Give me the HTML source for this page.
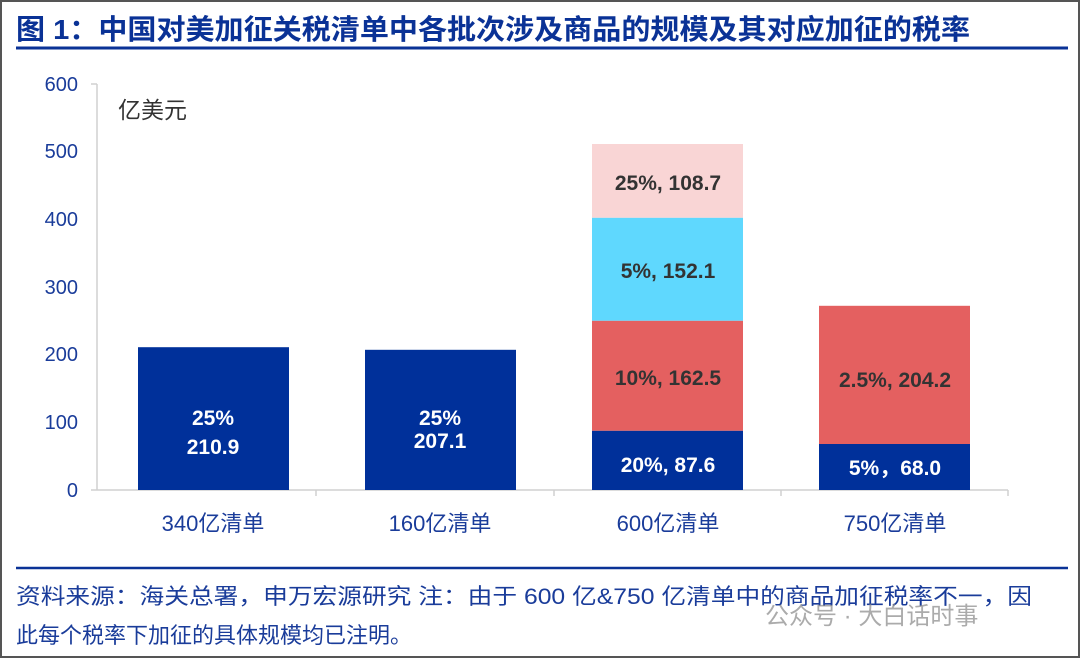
<!DOCTYPE html>
<html><head><meta charset="utf-8"><style>
html,body{margin:0;padding:0;background:#fff;}
body{width:1080px;height:658px;position:relative;overflow:hidden;font-family:"Liberation Sans","Noto Sans CJK SC",sans-serif;}
.frame{position:absolute;left:0;top:0;width:1076px;height:654px;border:2px solid #555;}
</style></head><body>
<div class="frame"></div>
<svg width="1080" height="658" style="position:absolute;left:0;top:0" font-family="Liberation Sans, Noto Sans CJK SC, sans-serif">
<text x="16" y="39" font-size="28" font-weight="bold" fill="#0a3296" textLength="954" lengthAdjust="spacingAndGlyphs">图 1：中国对美加征关税清单中各批次涉及商品的规模及其对应加征的税率</text>
<line x1="16" y1="48" x2="1068" y2="48" stroke="#0a3296" stroke-width="3"/>
<line x1="97" y1="84" x2="97" y2="490" stroke="#d0d0d0" stroke-width="1.5"/>
<line x1="91" y1="84" x2="97" y2="84" stroke="#d0d0d0" stroke-width="1.5"/>
<line x1="91" y1="490" x2="1008" y2="490" stroke="#d0d0d0" stroke-width="1.5"/>
<g stroke="#d0d0d0" stroke-width="1.5">
<line x1="316" y1="490" x2="316" y2="496"/><line x1="554" y1="490" x2="554" y2="496"/><line x1="781" y1="490" x2="781" y2="496"/><line x1="1008" y1="490" x2="1008" y2="496"/>
</g>
<g font-size="20" fill="#1a3c9a" text-anchor="end">
<text x="78" y="91">600</text><text x="78" y="158">500</text><text x="78" y="226">400</text><text x="78" y="294">300</text><text x="78" y="361">200</text><text x="78" y="429">100</text><text x="78" y="497">0</text>
</g>
<text x="118" y="118" font-size="23" fill="#333">亿美元</text>
<rect x="138" y="347.2" width="151" height="142.8" fill="#00309a"/>
<rect x="365" y="349.8" width="151" height="140.2" fill="#00309a"/>
<rect x="592" y="430.7" width="151" height="59.3" fill="#00309a"/>
<rect x="592" y="320.7" width="151" height="110" fill="#e46060"/>
<rect x="592" y="217.7" width="151" height="103" fill="#5fd8fe"/>
<rect x="592" y="144" width="151" height="73.7" fill="#f9d5d5"/>
<rect x="819" y="444" width="151" height="46" fill="#00309a"/>
<rect x="819" y="305.8" width="151" height="138.2" fill="#e46060"/>
<g font-size="21" font-weight="bold" text-anchor="middle">
<text x="213" y="425" fill="#fff">25%</text><text x="213" y="454" fill="#fff">210.9</text>
<text x="440" y="425" fill="#fff">25%</text><text x="440" y="448" fill="#fff">207.1</text>
<text x="668" y="472" fill="#fff">20%, 87.6</text>
<text x="668" y="385" fill="#333">10%, 162.5</text>
<text x="668" y="278" fill="#333">5%, 152.1</text>
<text x="668" y="190" fill="#333">25%, 108.7</text>
<text x="895" y="387" fill="#333">2.5%, 204.2</text>
<text x="895" y="475" fill="#fff">5%，68.0</text>
</g>
<g font-size="22" fill="#1a3c9a" text-anchor="middle">
<text x="213" y="531">340亿清单</text><text x="440" y="531">160亿清单</text><text x="668" y="531">600亿清单</text><text x="895" y="531">750亿清单</text>
</g>
<line x1="16" y1="568" x2="1068" y2="568" stroke="#0a3296" stroke-width="2.5"/>
<text x="16" y="604" font-size="22" fill="#1a3c9a" textLength="1016" lengthAdjust="spacingAndGlyphs">资料来源：海关总署，申万宏源研究 注：由于 600 亿&amp;750 亿清单中的商品加征税率不一，因</text>
<text x="16" y="643" font-size="22" fill="#1a3c9a">此每个税率下加征的具体规模均已注明。</text>
<text x="765" y="624" font-size="24" fill="#888" opacity="0.7">公众号 · 大白话时事</text>
</svg>
</body></html>
